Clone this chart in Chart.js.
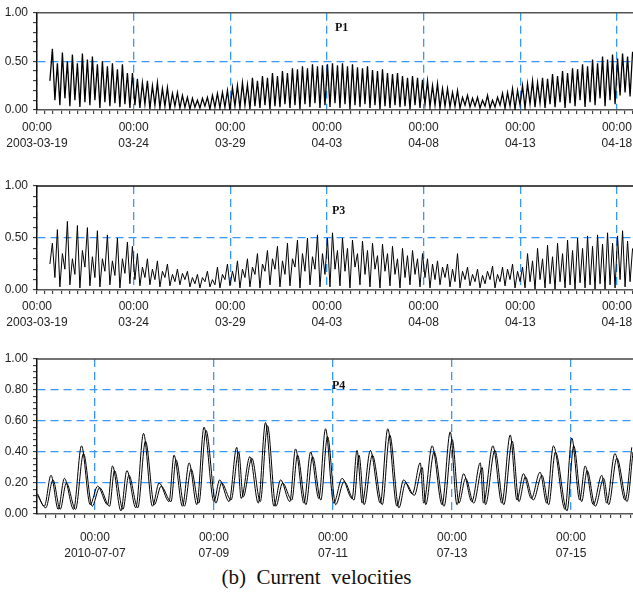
<!DOCTYPE html>
<html>
<head>
<meta charset="utf-8">
<script src="https://cdn.jsdelivr.net/npm/chart.js@4.4.1/dist/chart.umd.min.js"></script>
<style>
body { margin: 0; background: #fff; width: 633px; height: 594px; position: relative; overflow: hidden; }
.panel { position: absolute; left: 0; width: 633px; }
.tag { position: absolute; font: bold 12px "Liberation Serif", "Times New Roman", serif; color: #111; }
#caption { position: absolute; left: 0; width: 633px; top: 565px; text-align: center; font: 21px "Liberation Serif", "Times New Roman", serif; white-space: pre; color: #111; }
</style>
</head>
<body>
<div class="panel" style="top:0;height:160px"><canvas id="c1"></canvas></div>
<div class="panel" style="top:170px;height:170px"><canvas id="c2"></canvas></div>
<div class="panel" style="top:340px;height:220px"><canvas id="c3"></canvas></div>
<div class="tag" style="left:335px;top:20px">P1</div>
<div class="tag" style="left:332px;top:203px">P3</div>
<div class="tag" style="left:332px;top:378px">P4</div>
<div id="caption">(b)  Current  velocities</div>

<script>
// Tick labels (one per major gridline)
const springDates = ['2003-03-19', '03-24', '03-29', '04-03', '04-08', '04-13', '04-18'];
const summerDates = ['2010-07-07', '07-09', '07-11', '07-13', '07-15'];

// P1 / P3: hours from 2003-03-19 00:00, one trough then one peak per half tide
const tideStart = 16;
const halfStep = 3.105;

const p1Troughs = [
    0.3, 0.1, 0.05, 0.12, 0.04, 0.1, 0.03, 0.08, 0.05, 0.1, 0.02, 0.08, 0.04, 0.07, 0.03, 0.06, 0.02,
    0.05, 0.02, 0.06, 0.01, 0.05, 0.02, 0.04, 0.01, 0.04, 0.02, 0.03, 0.01,
    0.03, 0.02, 0.04, 0.01, 0.03, 0.02, 0.03, 0.0,
    0.04, 0.02, 0.05, 0.01, 0.04, 0.02, 0.05, 0.01, 0.04, 0.03, 0.06, 0.02, 0.05, 0.01, 0.06, 0.03, 0.07, 0.02, 0.05,
    0.03, 0.07, 0.02, 0.06, 0.01, 0.05, 0.03, 0.06, 0.02, 0.05, 0.01, 0.04, 0.02, 0.05, 0.03, 0.04, 0.01, 0.05, 0.02,
    0.06, 0.03, 0.05, 0.02, 0.04, 0.03, 0.04, 0.02, 0.05, 0.03, 0.04, 0.02,
    0.04, 0.02, 0.03, 0.05, 0.02, 0.04, 0.01, 0.05,
    0.02, 0.06, 0.03, 0.07, 0.02, 0.06, 0.03, 0.08, 0.02, 0.07, 0.04, 0.1, 0.03, 0.08, 0.05, 0.12, 0.04, 0.1, 0.06,
    0.15, 0.18, 0.14
];
const p1Peaks = [
    0.63, 0.48, 0.59, 0.5, 0.57, 0.48, 0.58, 0.52, 0.55, 0.47, 0.5, 0.45, 0.48, 0.42, 0.47, 0.38, 0.38,
    0.32, 0.28, 0.3, 0.25, 0.28, 0.22, 0.23, 0.17, 0.18, 0.15, 0.13, 0.12,
    0.1, 0.12, 0.13, 0.15, 0.17, 0.18, 0.2, 0.23,
    0.25, 0.28, 0.26, 0.33, 0.3, 0.35, 0.33, 0.38, 0.35, 0.4, 0.38, 0.43, 0.42, 0.45, 0.43, 0.47, 0.45, 0.46, 0.47,
    0.48, 0.46, 0.48, 0.45, 0.47, 0.44, 0.43, 0.45, 0.41, 0.4, 0.42, 0.38, 0.37, 0.38, 0.35, 0.33, 0.35, 0.33, 0.31,
    0.3, 0.25, 0.27, 0.22, 0.22, 0.18, 0.2, 0.13, 0.15, 0.12, 0.13, 0.1,
    0.15, 0.1, 0.13, 0.17, 0.18, 0.22, 0.2, 0.25,
    0.27, 0.3, 0.28, 0.33, 0.32, 0.37, 0.35, 0.4, 0.38, 0.43, 0.42, 0.47, 0.45, 0.52, 0.48, 0.55, 0.52, 0.57, 0.53,
    0.58, 0.55, 0.6
];

const p3Troughs = [
    0.25, 0.12, 0.03, 0.2, 0.05, 0.15, 0.02, 0.22, 0.04, 0.12, 0.03, 0.18, 0.05, 0.14, 0.02, 0.16, 0.06,
    0.1, 0.04, 0.12, 0.05, 0.1, 0.03, 0.12, 0.04, 0.08, 0.05, 0.1, 0.03,
    0.06, 0.02, 0.08, 0.03, 0.05, 0.02, 0.1, 0.04,
    0.08, 0.02, 0.12, 0.03, 0.15, 0.02, 0.18, 0.05, 0.2, 0.03, 0.15, 0.04, 0.22, 0.02, 0.18, 0.05, 0.2, 0.03, 0.15,
    0.03, 0.2, 0.04, 0.18, 0.02, 0.22, 0.05, 0.15, 0.03, 0.2, 0.02, 0.18, 0.04, 0.15, 0.02, 0.12, 0.05, 0.15, 0.03,
    0.12, 0.02, 0.1, 0.05, 0.12, 0.03, 0.08, 0.02, 0.1, 0.04, 0.08, 0.02,
    0.06, 0.1, 0.02, 0.08, 0.04, 0.1, 0.02, 0.08,
    0.02, 0.08, 0.01, 0.1, 0.02, 0.06, 0.01, 0.08, 0.02, 0.05, 0.01, 0.07, 0.02, 0.05, 0.01, 0.06, 0.01, 0.05, 0.02,
    0.1, 0.03, 0.08
];
const p3Peaks = [
    0.45, 0.58, 0.35, 0.66, 0.3, 0.62, 0.38, 0.6, 0.32, 0.57, 0.3, 0.53, 0.28, 0.5, 0.3, 0.46, 0.42,
    0.35, 0.22, 0.3, 0.2, 0.28, 0.18, 0.25, 0.15, 0.2, 0.16, 0.18, 0.12,
    0.15, 0.12, 0.18, 0.1, 0.22, 0.15, 0.25, 0.18,
    0.28, 0.2, 0.3, 0.22, 0.35, 0.25, 0.38, 0.3, 0.42, 0.28, 0.45, 0.3, 0.48, 0.35, 0.5, 0.32, 0.53, 0.35, 0.5,
    0.55, 0.38, 0.5, 0.4, 0.48, 0.35, 0.47, 0.38, 0.45, 0.33, 0.44, 0.35, 0.42, 0.3, 0.4, 0.33, 0.38, 0.3, 0.35,
    0.3, 0.25, 0.28, 0.22, 0.25, 0.2, 0.35, 0.18, 0.22, 0.15, 0.2, 0.14,
    0.18, 0.23, 0.15, 0.22, 0.2, 0.25, 0.18, 0.22,
    0.35, 0.28, 0.4, 0.3, 0.43, 0.32, 0.45, 0.35, 0.48, 0.38, 0.5, 0.4, 0.52, 0.42, 0.53, 0.44, 0.55, 0.45, 0.52,
    0.57, 0.47, 0.4
];

// P4: hours from 2010-07-06 00:00, two records
const p4HoursA = [0.9, 3.6, 6.3, 9.2, 11.7, 15.4, 18.6, 22.1, 25.1, 29.1, 31.1, 34.5, 36.9, 40.5, 43.6, 47.2, 49.9, 53.9, 55.9, 59.3,
    62, 65.1, 68, 72, 74.3, 78.1, 81.2, 83, 86.5, 89.9, 92.8, 96.2, 98.9, 102.6, 104.9, 108.3, 111, 114.3, 117, 120.3,
    123.7, 127.7, 129.7, 131.8, 135.1, 139.1, 142.1, 145.8, 148.5, 152, 155.2, 156.6, 160, 164, 167.3, 170, 172.7, 176, 179.4, 180.7,
    184.5, 188.1, 191.5, 194.2, 196.8, 200, 203.5, 206.2, 208.9, 213.6, 216.3, 219.5, 221.7, 225, 228.4, 230.4, 233.7, 237.8, 240.5];
const p4SpeedA = [0.13, 0.05, 0.25, 0.03, 0.23, 0.03, 0.44, 0.06, 0.18, 0.06, 0.31, 0.02, 0.28, 0.04, 0.52, 0.05, 0.2, 0.08, 0.38, 0.05,
    0.33, 0.06, 0.56, 0.08, 0.22, 0.08, 0.43, 0.1, 0.37, 0.07, 0.59, 0.05, 0.22, 0.08, 0.42, 0.07, 0.4, 0.1, 0.55, 0.07,
    0.23, 0.1, 0.41, 0.07, 0.41, 0.07, 0.55, 0.05, 0.22, 0.13, 0.33, 0.07, 0.44, 0.06, 0.53, 0.06, 0.26, 0.08, 0.33, 0.07,
    0.44, 0.07, 0.51, 0.09, 0.26, 0.1, 0.27, 0.07, 0.44, 0.03, 0.49, 0.09, 0.31, 0.06, 0.25, 0.07, 0.39, 0.09, 0.43];
const p4HoursB = [0.9, 4.2, 7.1, 10, 12.5, 16.2, 19.4, 22.9, 25.9, 29.9, 31.9, 35.3, 37.7, 41.3, 44.4, 48, 50.7, 54.7, 56.7, 60.1,
    62.8, 65.9, 68.8, 72.8, 75.1, 78.9, 82, 83.8, 87.3, 90.7, 93.6, 97, 99.7, 103.4, 105.7, 109.1, 111.8, 115.1, 117.8, 121.1,
    124.5, 128.5, 130.5, 132.6, 135.9, 139.9, 142.9, 146.6, 149.3, 152.8, 156, 157.4, 160.8, 164.8, 168.1, 170.8, 173.5, 176.8, 180.2, 181.5,
    185.3, 188.9, 192.3, 195, 197.6, 200.8, 204.3, 207, 209.7, 214.4, 217.1, 220.3, 222.5, 225.8, 229.2, 231.2, 234.5, 238.6, 241];
const p4SpeedB = [0.12, 0.04, 0.22, 0.03, 0.2, 0.03, 0.39, 0.05, 0.17, 0.05, 0.28, 0.03, 0.25, 0.04, 0.47, 0.06, 0.18, 0.08, 0.35, 0.05,
    0.29, 0.07, 0.54, 0.07, 0.2, 0.09, 0.4, 0.11, 0.36, 0.08, 0.57, 0.05, 0.2, 0.09, 0.38, 0.06, 0.37, 0.09, 0.5, 0.06,
    0.21, 0.09, 0.38, 0.06, 0.38, 0.06, 0.51, 0.04, 0.2, 0.12, 0.3, 0.06, 0.4, 0.05, 0.48, 0.07, 0.23, 0.07, 0.3, 0.06,
    0.41, 0.06, 0.47, 0.08, 0.24, 0.09, 0.25, 0.06, 0.4, 0.02, 0.44, 0.08, 0.28, 0.05, 0.23, 0.06, 0.36, 0.08, 0.4];

const BLUE = '#3797fb';
const CLEAR = 'rgba(0,0,0,0)';
const FONT = { family: '"Liberation Sans", Arial, sans-serif', size: 12, lineHeight: 1.3 };

function tidePoints(troughs, peaks) {
    const pts = [];
    for (let i = 0; i < peaks.length; i++) {
        pts.push({ x: tideStart + 2 * i * halfStep, y: troughs[i] });
        pts.push({ x: tideStart + (2 * i + 1) * halfStep, y: peaks[i] });
    }
    return pts;
}

function pairPoints(hours, speeds) {
    return hours.map((h, i) => ({ x: h, y: speeds[i] }));
}

// solid line along the top of the plot
const topFrame = {
    id: 'topFrame',
    beforeDatasetsDraw(chart, args, opts) {
        const { ctx, chartArea: a } = chart;
        ctx.save();
        ctx.strokeStyle = opts.color || '#555';
        ctx.lineWidth = 1.5;
        ctx.beginPath();
        ctx.moveTo(a.left, a.top);
        ctx.lineTo(a.right, a.top);
        ctx.stroke();
        ctx.restore();
    }
};

function makeChart(id, p) {
    new Chart(document.getElementById(id), {
        type: 'line',
        data: { datasets: p.series.map(s => ({
            data: s, borderColor: '#000', borderWidth: p.lineWidth, pointRadius: 0, tension: 0, fill: false,
            cubicInterpolationMode: p.smooth ? 'monotone' : 'default'
        })) },
        options: {
            responsive: true,
            maintainAspectRatio: false,
            animation: false,
            events: [],
            layout: { padding: { top: p.top, left: 0, right: 0, bottom: 0 } },
            plugins: { legend: { display: false }, tooltip: { enabled: false }, topFrame: { color: p.frameColor } },
            scales: {
                x: {
                    type: 'linear',
                    min: p.xMin, max: p.xMax,
                    afterFit: s => { s.height = p.xHeight; s.paddingLeft = 0; s.paddingRight = 0; },
                    ticks: {
                        stepSize: p.xMinor, autoSkip: false, maxRotation: 0, minRotation: 0, includeBounds: false,
                        padding: p.xPad, color: '#222', font: FONT,
                        callback: v => {
                            const k = (v - p.xFirst) / p.xMajor;
                            return (k >= 0 && Math.abs(k - Math.round(k)) < 1e-6) ? ['00:00', p.dates[Math.round(k)]] : '';
                        }
                    },
                    grid: {
                        color: c => {
                            const k = (c.tick.value - p.xFirst) / p.xMajor;
                            return (k >= 0 && Math.abs(k - Math.round(k)) < 1e-6) ? BLUE : CLEAR;
                        },
                        lineWidth: 1.3, tickColor: '#222', tickLength: 4, tickWidth: 1
                    },
                    border: { color: '#555', width: 1.6, dash: [8, 5] }
                },
                y: {
                    min: 0, max: 1,
                    afterFit: s => { s.width = 37; },
                    ticks: {
                        stepSize: p.yMinor, autoSkip: false, padding: 5, color: '#222', font: FONT,
                        callback: v => (Math.round(v * 100) % p.yMajor === 0) ? v.toFixed(2) : ''
                    },
                    grid: {
                        color: c => {
                            const r = Math.round(c.tick.value * 100);
                            return (r % p.yMajor === 0 && r > 0 && r < 100) ? BLUE : CLEAR;
                        },
                        lineWidth: 1.3, tickColor: '#222', tickLength: 4, tickWidth: 1
                    },
                    border: { color: '#111', width: 1.5, dash: [8, 5] }
                }
            }
        },
        plugins: [topFrame]
    });
}

makeChart('c1', {
    series: [tidePoints(p1Troughs, p1Peaks)], lineWidth: 1.3,
    top: 9, xHeight: 50, xPad: 6, xMin: 0, xMax: 740, xMinor: 10, xMajor: 120, xFirst: 0,
    dates: springDates, yMinor: 0.1, yMajor: 50, frameColor: '#555'
});

makeChart('c2', {
    series: [tidePoints(p3Troughs, p3Peaks)], lineWidth: 1,
    top: 16, xHeight: 50, xPad: 5, xMin: 0, xMax: 740, xMinor: 10, xMajor: 120, xFirst: 0,
    dates: springDates, yMinor: 0.1, yMajor: 50, frameColor: '#111'
});

makeChart('c3', {
    series: [pairPoints(p4HoursA, p4SpeedA), pairPoints(p4HoursB, p4SpeedB)], lineWidth: 1, smooth: true,
    top: 19, xHeight: 46, xPad: 12, xMin: 0.65, xMax: 241, xMinor: 4, xMajor: 48, xFirst: 24,
    dates: summerDates, yMinor: 0.04, yMajor: 20, frameColor: '#444'
});
</script>
</body>
</html>
